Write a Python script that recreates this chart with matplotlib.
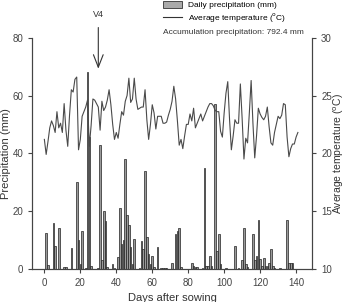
import matplotlib.pyplot as plt
import numpy as np
from matplotlib.patches import Patch
from matplotlib.lines import Line2D

plt.rcParams['font.family'] = ['Liberation Sans', 'DejaVu Sans']

# daily precipitation (mm), day -> value
rain_days = [1, 2, 5, 6, 8, 11, 12, 15, 18, 19, 20, 21, 23, 24, 25, 26, 30, 31, 32, 33, 34, 35,
             38, 39, 41, 42, 43, 44, 45, 46, 47, 48, 49, 50, 53, 54, 55, 56, 57, 58, 59, 60, 61, 63,
             65, 66, 67, 68, 71, 73, 74, 75, 76, 82, 83, 84, 85, 88, 89, 90, 91, 92, 93,
             95, 96, 97, 98, 101, 106, 108, 110, 111, 112, 113, 116, 117, 118, 119, 120, 121,
             122, 123, 124, 125, 126, 127, 128, 131, 135, 136, 137, 138]
rain_mm = [12.3, 1.3, 16, 8, 14, 0.5, 0.5, 7.3, 30, 10, 1.5, 13, 0.3, 68, 45.5, 1, 0.3, 43, 3, 20, 16.5, 0.5,
           1.5, 0.3, 4, 21, 8.5, 10, 38, 18.5, 15, 7.5, 1.5, 10.2, 0.3, 9.5, 7, 34, 11, 5, 1.5, 4.5, 0.5, 7.5,
           0.3, 0.3, 0.3, 0.3, 2, 12, 13, 14, 0.5, 2, 1, 0.7, 0.5, 0.3, 35, 0.8, 1, 4.5, 1,
           57, 6, 12, 1.5, 0.3, 8, 0.3, 3, 14, 1.5, 0.5, 12, 3, 4.5, 17, 3.5, 1,
           3.8, 1, 1, 2, 7, 1, 0.3, 0.3, 17, 2, 2, 2]

# daily mean temperature (C), days 0..141
temp_c = [21.2, 19.9, 21.0, 22.2, 22.8, 22.4, 21.8, 23.6, 22.2, 22.6,
          21.8, 24.3, 22.0, 20.6, 23.3, 25.5, 25.3, 26.4, 26.6, 20.3,
          21.2, 23.2, 23.6, 24.0, 24.6, 20.6, 22.4, 24.7, 24.6, 24.3,
          24.0, 22.0, 24.5, 23.7, 24.0, 24.6, 25.5, 24.2, 22.5, 21.2,
          21.8, 21.3, 22.5, 23.6, 23.3, 24.5, 25.0, 26.5, 24.4, 24.7,
          26.5, 24.7, 23.8, 23.9, 24.0, 24.0, 25.5, 22.9, 21.2, 22.5,
          24.2, 23.5, 22.1, 23.2, 23.2, 23.2, 22.6, 22.6, 22.7, 23.3,
          23.8, 24.5, 25.8, 24.7, 22.8, 20.7, 21.2, 20.4, 21.5, 22.5,
          22.5, 23.4, 22.8, 23.9, 22.2, 22.6, 23.0, 23.4, 22.8, 23.2,
          23.6, 24.0, 24.3, 24.3, 24.1, 23.7, 23.6, 23.6, 21.9, 21.4,
          23.5, 25.2, 26.2, 22.9, 20.3, 21.5, 22.9, 22.6, 22.6, 26.0,
          23.0, 19.5, 21.3, 20.9, 23.5, 26.3, 22.6, 19.6, 21.5, 23.9,
          23.4, 23.1, 22.9, 23.2, 24.0, 22.3, 20.9, 20.7, 21.8, 22.5,
          23.2, 23.0, 23.3, 24.3, 24.2, 21.4, 19.7, 20.4, 20.8, 20.8,
          21.4, 21.8]
temp_days = np.arange(len(temp_c))

fig = plt.figure(figsize=(3.46, 3.02), dpi=100)
ax = fig.add_axes([0.0934, 0.110, 0.8086, 0.765])
ax2 = ax.twinx()

ax.bar(rain_days, rain_mm, width=0.9, color='#9a9a9a', edgecolor='#222222', linewidth=0.5, zorder=2)
ax2.plot(temp_days, temp_c, color='#4a4a4a', linewidth=0.8)

ax.set_xlim(-6.7, 148.9)
ax.set_ylim(0, 80)
ax2.set_ylim(10, 30)
ax.set_xticks(range(0, 141, 20))
ax.set_yticks(range(0, 81, 20))
ax2.set_yticks(range(10, 31, 5))

for a in (ax, ax2):
    a.spines['top'].set_visible(False)
    for s in a.spines.values():
        s.set_color('#444444')
        s.set_linewidth(0.8)
    a.tick_params(labelsize=7, colors='#444444', length=3, width=0.8)
ax.spines['left'].set_bounds(0, 80)
ax2.spines['right'].set_bounds(10, 30)
ax.spines['bottom'].set_bounds(-6.7, 148.9)

ax.set_ylabel('Precipitation (mm)', fontsize=8, color='#333333', labelpad=1)
ax2.set_ylabel(r'Average temperature ($^{\rm o}$C)', fontsize=7.5, color='#333333', labelpad=0)
ax.set_xlabel('Days after sowing', fontsize=8, color='#333333', labelpad=4)

# V4 arrow
ax.annotate('', xy=(30, 68.3), xytext=(30, 84.5), xycoords='data',
            arrowprops=dict(arrowstyle='->,head_length=0.9,head_width=0.35',
                            color='#333333', lw=0.8), annotation_clip=False)
ax.text(30, 86.5, 'V4', ha='center', va='bottom', fontsize=6.5, color='#333333', clip_on=False)

handles = [Patch(facecolor='#aaaaaa', edgecolor='#333333', linewidth=0.6),
           Line2D([0], [0], color='#333333', linewidth=0.8)]
labels = ['Daily precipitation (mm)', r'Average temperature ($^{\rm o}$C)']
fig.legend(handles, labels, loc='upper left', bbox_to_anchor=(0.455, 1.015), frameon=False,
           fontsize=6, handlelength=2.2, handleheight=0.8, labelspacing=0.25, borderpad=0.2)
fig.text(0.472, 0.887, 'Accumulation precipitation: 792.4 mm', fontsize=6, color='#333333')

fig.savefig('out.png', dpi=100)
